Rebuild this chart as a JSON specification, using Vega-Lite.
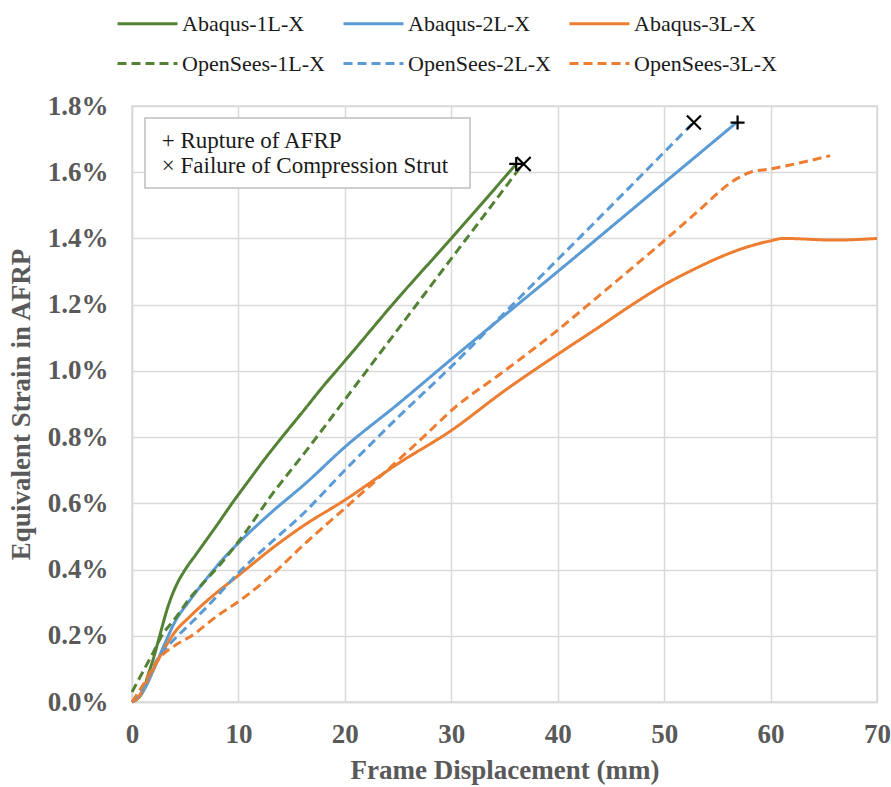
{
  "$schema": "https://vega.github.io/schema/vega-lite/v6.json",
  "width": 745,
  "height": 596,
  "autosize": {"type": "none"},
  "padding": {"left": 132, "top": 106, "right": 14, "bottom": 85},
  "config": {
    "font": "Liberation Serif",
    "view": {"stroke": "#d9d9d9", "strokeWidth": 1.5},
    "axis": {
      "grid": true,
      "gridColor": "#d9d9d9",
      "gridWidth": 1.5,
      "domainColor": "#d9d9d9",
      "domainWidth": 1.5,
      "ticks": false,
      "labelFont": "Liberation Serif",
      "labelFontSize": 27,
      "labelFontWeight": "bold",
      "labelColor": "#595959",
      "titleFont": "Liberation Serif",
      "titleFontSize": 27,
      "titleFontWeight": "bold",
      "titleColor": "#595959",
      "labelOverlap": false,
      "labelFlush": false
    },
    "legend": {
      "title": null,
      "orient": "none",
      "legendX": 4,
      "legendY": -94,
      "direction": "horizontal",
      "columns": 3,
      "padding": 0,
      "symbolType": "M-3,0H3",
      "symbolSize": 400,
      "symbolStrokeWidth": 3,
      "labelFont": "Liberation Serif",
      "labelFontSize": 22,
      "labelColor": "#1a1a1a",
      "labelOffset": 23,
      "columnPadding": 12,
      "rowPadding": 17
    }
  },
  "datasets": {
    "lines": [
      {"s":"Abaqus-1L-X","x":0,"y":0},{"s":"Abaqus-1L-X","x":1,"y":0.0003},{"s":"Abaqus-1L-X","x":1.5,"y":0.0008},{"s":"Abaqus-1L-X","x":2,"y":0.0013},{"s":"Abaqus-1L-X","x":2.6,"y":0.002},{"s":"Abaqus-1L-X","x":3.4,"y":0.0029},{"s":"Abaqus-1L-X","x":4.2,"y":0.00355},{"s":"Abaqus-1L-X","x":5,"y":0.004},{"s":"Abaqus-1L-X","x":6,"y":0.00445},{"s":"Abaqus-1L-X","x":7,"y":0.0049},{"s":"Abaqus-1L-X","x":8,"y":0.00535},{"s":"Abaqus-1L-X","x":9.4,"y":0.006},{"s":"Abaqus-1L-X","x":11,"y":0.0067},{"s":"Abaqus-1L-X","x":12.5,"y":0.00735},{"s":"Abaqus-1L-X","x":14.1,"y":0.008},{"s":"Abaqus-1L-X","x":16,"y":0.00875},{"s":"Abaqus-1L-X","x":18,"y":0.00955},{"s":"Abaqus-1L-X","x":20,"y":0.0103},{"s":"Abaqus-1L-X","x":25,"y":0.0122},{"s":"Abaqus-1L-X","x":30,"y":0.014},{"s":"Abaqus-1L-X","x":33,"y":0.0151},{"s":"Abaqus-1L-X","x":36.1,"y":0.01625},
      {"s":"Abaqus-2L-X","x":0,"y":0},{"s":"Abaqus-2L-X","x":1,"y":0.0003},{"s":"Abaqus-2L-X","x":2.2,"y":0.0011},{"s":"Abaqus-2L-X","x":3,"y":0.0017},{"s":"Abaqus-2L-X","x":4,"y":0.0024},{"s":"Abaqus-2L-X","x":5.5,"y":0.0031},{"s":"Abaqus-2L-X","x":7.2,"y":0.0038},{"s":"Abaqus-2L-X","x":8.5,"y":0.0043},{"s":"Abaqus-2L-X","x":10,"y":0.0048},{"s":"Abaqus-2L-X","x":13,"y":0.0057},{"s":"Abaqus-2L-X","x":16.3,"y":0.0066},{"s":"Abaqus-2L-X","x":20,"y":0.0077},{"s":"Abaqus-2L-X","x":25,"y":0.009},{"s":"Abaqus-2L-X","x":30,"y":0.01035},{"s":"Abaqus-2L-X","x":35,"y":0.01168},{"s":"Abaqus-2L-X","x":40,"y":0.013},{"s":"Abaqus-2L-X","x":45,"y":0.01434},{"s":"Abaqus-2L-X","x":50,"y":0.01568},{"s":"Abaqus-2L-X","x":54,"y":0.01675},{"s":"Abaqus-2L-X","x":56.8,"y":0.0175},
      {"s":"Abaqus-3L-X","x":0,"y":0},{"s":"Abaqus-3L-X","x":0.5,"y":0.0001},{"s":"Abaqus-3L-X","x":1.2,"y":0.0005},{"s":"Abaqus-3L-X","x":2.5,"y":0.0013},{"s":"Abaqus-3L-X","x":4,"y":0.0021},{"s":"Abaqus-3L-X","x":5.5,"y":0.0026},{"s":"Abaqus-3L-X","x":7.2,"y":0.0031},{"s":"Abaqus-3L-X","x":10.3,"y":0.0039},{"s":"Abaqus-3L-X","x":13,"y":0.0046},{"s":"Abaqus-3L-X","x":16,"y":0.0053},{"s":"Abaqus-3L-X","x":20,"y":0.0061},{"s":"Abaqus-3L-X","x":25,"y":0.0072},{"s":"Abaqus-3L-X","x":30,"y":0.0082},{"s":"Abaqus-3L-X","x":35,"y":0.0094},{"s":"Abaqus-3L-X","x":40,"y":0.0105},{"s":"Abaqus-3L-X","x":44,"y":0.01135},{"s":"Abaqus-3L-X","x":47,"y":0.012},{"s":"Abaqus-3L-X","x":50,"y":0.0126},{"s":"Abaqus-3L-X","x":53,"y":0.0131},{"s":"Abaqus-3L-X","x":55,"y":0.0134},{"s":"Abaqus-3L-X","x":57.4,"y":0.0137},{"s":"Abaqus-3L-X","x":59.9,"y":0.01392},{"s":"Abaqus-3L-X","x":61.2,"y":0.014},{"s":"Abaqus-3L-X","x":66,"y":0.01395},{"s":"Abaqus-3L-X","x":70,"y":0.014},
      {"s":"OpenSees-1L-X","x":0,"y":0.0003},{"s":"OpenSees-1L-X","x":1,"y":0.0009},{"s":"OpenSees-1L-X","x":2,"y":0.0015},{"s":"OpenSees-1L-X","x":2.8,"y":0.002},{"s":"OpenSees-1L-X","x":4,"y":0.0025},{"s":"OpenSees-1L-X","x":5.6,"y":0.0032},{"s":"OpenSees-1L-X","x":7,"y":0.0037},{"s":"OpenSees-1L-X","x":8.4,"y":0.0042},{"s":"OpenSees-1L-X","x":10.6,"y":0.0051},{"s":"OpenSees-1L-X","x":13,"y":0.0062},{"s":"OpenSees-1L-X","x":16.4,"y":0.0076},{"s":"OpenSees-1L-X","x":20,"y":0.00913},{"s":"OpenSees-1L-X","x":25,"y":0.01126},{"s":"OpenSees-1L-X","x":30,"y":0.01339},{"s":"OpenSees-1L-X","x":33,"y":0.01466},{"s":"OpenSees-1L-X","x":36.6,"y":0.0162},
      {"s":"OpenSees-2L-X","x":0,"y":0},{"s":"OpenSees-2L-X","x":1,"y":0.0004},{"s":"OpenSees-2L-X","x":2.4,"y":0.0013},{"s":"OpenSees-2L-X","x":4,"y":0.0019},{"s":"OpenSees-2L-X","x":5.6,"y":0.0024},{"s":"OpenSees-2L-X","x":8,"y":0.0032},{"s":"OpenSees-2L-X","x":10,"y":0.0039},{"s":"OpenSees-2L-X","x":13,"y":0.0048},{"s":"OpenSees-2L-X","x":15.8,"y":0.0056},{"s":"OpenSees-2L-X","x":20,"y":0.007},{"s":"OpenSees-2L-X","x":25,"y":0.0086},{"s":"OpenSees-2L-X","x":30,"y":0.01013},{"s":"OpenSees-2L-X","x":35,"y":0.01175},{"s":"OpenSees-2L-X","x":39.3,"y":0.01314},{"s":"OpenSees-2L-X","x":43,"y":0.01433},{"s":"OpenSees-2L-X","x":46,"y":0.0153},{"s":"OpenSees-2L-X","x":49.9,"y":0.01657},{"s":"OpenSees-2L-X","x":52.6,"y":0.01745},
      {"s":"OpenSees-3L-X","x":0,"y":0},{"s":"OpenSees-3L-X","x":1,"y":0.0005},{"s":"OpenSees-3L-X","x":2.5,"y":0.0013},{"s":"OpenSees-3L-X","x":4,"y":0.0017},{"s":"OpenSees-3L-X","x":5.6,"y":0.002},{"s":"OpenSees-3L-X","x":8,"y":0.0026},{"s":"OpenSees-3L-X","x":10.3,"y":0.0031},{"s":"OpenSees-3L-X","x":13,"y":0.0038},{"s":"OpenSees-3L-X","x":16.3,"y":0.0048},{"s":"OpenSees-3L-X","x":20,"y":0.00585},{"s":"OpenSees-3L-X","x":25,"y":0.0073},{"s":"OpenSees-3L-X","x":27.7,"y":0.0081},{"s":"OpenSees-3L-X","x":30,"y":0.0088},{"s":"OpenSees-3L-X","x":35,"y":0.01},{"s":"OpenSees-3L-X","x":40,"y":0.01123},{"s":"OpenSees-3L-X","x":43.7,"y":0.01222},{"s":"OpenSees-3L-X","x":46,"y":0.01284},{"s":"OpenSees-3L-X","x":49.9,"y":0.0139},{"s":"OpenSees-3L-X","x":53,"y":0.01477},{"s":"OpenSees-3L-X","x":56.8,"y":0.0158},{"s":"OpenSees-3L-X","x":58.1,"y":0.016},{"s":"OpenSees-3L-X","x":60,"y":0.0161},{"s":"OpenSees-3L-X","x":63,"y":0.0163},{"s":"OpenSees-3L-X","x":65.6,"y":0.0165}
    ],
    "markers": [
      {"m":"plus","x":36.1,"y":0.01625},
      {"m":"cross","x":36.8,"y":0.01625},
      {"m":"plus","x":56.9,"y":0.0175},
      {"m":"cross","x":52.8,"y":0.0175}
    ],
    "box": [
      {"x":1.22,"x2":31.76,"y":0.01552,"y2":0.01764}
    ],
    "notes": [
      {"t":"+ Rupture of AFRP","x":2.8,"y":0.01673},
      {"t":"× Failure of Compression Strut","x":2.8,"y":0.01598}
    ]
  },
  "encoding": {
    "x": {
      "field": "x",
      "type": "quantitative",
      "scale": {"domain": [0, 70], "nice": false},
      "axis": {
        "values": [0, 10, 20, 30, 40, 50, 60, 70],
        "title": "Frame Displacement (mm)",
        "labelPadding": 19,
        "titlePadding": 10
      }
    },
    "y": {
      "field": "y",
      "type": "quantitative",
      "scale": {"domain": [0, 0.018], "nice": false},
      "axis": {
        "values": [0, 0.002, 0.004, 0.006, 0.008, 0.01, 0.012, 0.014, 0.016, 0.018],
        "format": ".1%",
        "title": "Equivalent Strain in AFRP",
        "labelPadding": 24,
        "titlePadding": 12
      }
    }
  },
  "layer": [
    {
      "data": {"name": "box"},
      "mark": {"type": "rect", "fill": "white", "stroke": "#bfbfbf", "strokeWidth": 1.5},
      "encoding": {
        "x2": {"field": "x2"},
        "y2": {"field": "y2"}
      }
    },
    {
      "data": {"name": "notes"},
      "mark": {"type": "text", "align": "left", "baseline": "alphabetic", "font": "Liberation Serif", "fontSize": 23, "color": "#1a1a1a"},
      "encoding": {
        "text": {"field": "t"}
      }
    },
    {
      "data": {"name": "lines"},
      "mark": {"type": "line", "strokeWidth": 3, "interpolate": "monotone"},
      "encoding": {
        "color": {
          "field": "s",
          "type": "nominal",
          "scale": {
            "domain": ["Abaqus-1L-X", "Abaqus-2L-X", "Abaqus-3L-X", "OpenSees-1L-X", "OpenSees-2L-X", "OpenSees-3L-X"],
            "range": ["#548235", "#5b9bd5", "#ed7d31", "#548235", "#5b9bd5", "#ed7d31"]
          }
        },
        "strokeDash": {
          "field": "s",
          "type": "nominal",
          "scale": {
            "domain": ["Abaqus-1L-X", "Abaqus-2L-X", "Abaqus-3L-X", "OpenSees-1L-X", "OpenSees-2L-X", "OpenSees-3L-X"],
            "range": [[1, 0], [1, 0], [1, 0], [9, 5], [9, 5], [9, 5]]
          }
        }
      }
    },
    {
      "data": {"name": "markers"},
      "mark": {"type": "point", "filled": false, "stroke": "black", "strokeWidth": 2.2, "size": 196, "opacity": 1},
      "encoding": {
        "shape": {
          "field": "m",
          "type": "nominal",
          "scale": {"domain": ["plus", "cross"], "range": ["M-1,0H1M0,-1V1", "M-1,-1L1,1M-1,1L1,-1"]},
          "legend": null
        }
      }
    }
  ]
}
